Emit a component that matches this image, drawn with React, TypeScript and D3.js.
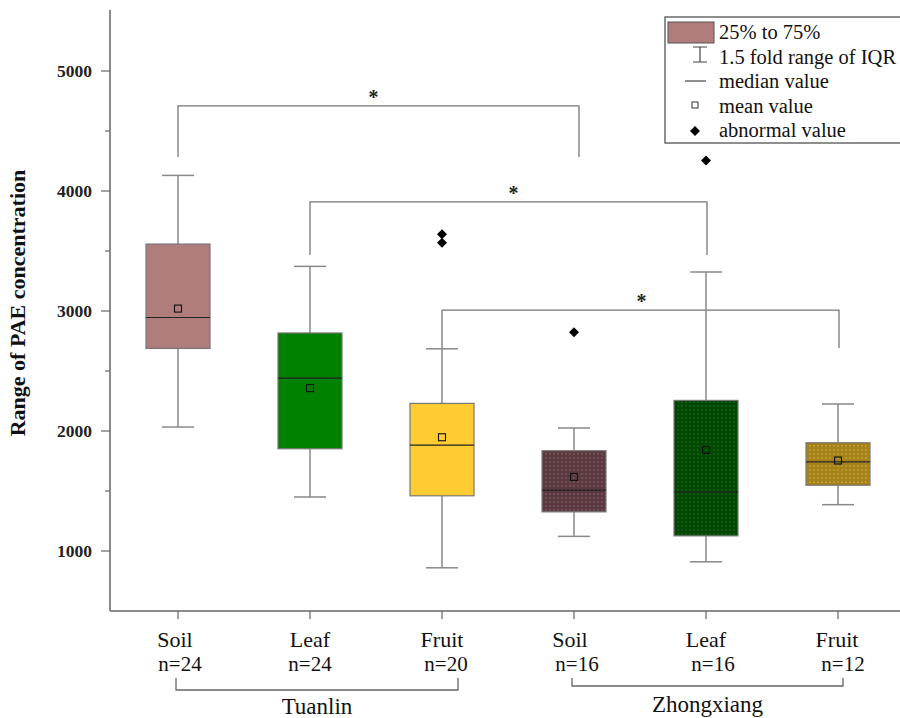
import React from "react";
import * as d3 from "d3";

const categories = ["Soil", "Leaf", "Fruit", "Soil", "Leaf", "Fruit"];
const nLabels = ["n=24", "n=24", "n=20", "n=16", "n=16", "n=12"];
const groups = ["Tuanlin", "Zhongxiang"];
const groupSpans = [[0, 2], [3, 5]];
const whiskerLow = [2033, 1450, 860, 1122, 910, 1386];
const q1 = [2688, 1852, 1460, 1326, 1126, 1548];
const median = [2946, 2440, 1882, 1508, 1490, 1742];
const mean = [3020, 2357, 1948, 1617, 1842, 1754];
const q3 = [3558, 2817, 2230, 1836, 2255, 1902];
const whiskerHigh = [4130, 3372, 2685, 2025, 3325, 2225];
const outliers = [[], [], [3640, 3568], [2822], [4255], []];
const yTicks = [1000, 2000, 3000, 4000, 5000];
const yMinor = [1500, 2500, 3500, 4500];
// [left box, right box, bracket top, left foot, right foot]
const sigPairs = [
  [0, 3, 4710, 4283, 4283],
  [1, 4, 3910, 3467, 3467],
  [2, 5, 3008, 2685, 2692],
];
const legendLabels = ["25% to 75%", "1.5 fold range of IQR", "median value", "mean value", "abnormal value"];

const fills = ["#b07c7c", "#008000", "#ffcc33", "url(#patSoil)", "url(#patLeaf)", "url(#patFruit)"];

export default function App() {
  const y = d3.scaleLinear().domain([500, 5500]).range([611, 11]);
  const x = d3.scalePoint<number>().domain(d3.range(6)).range([178, 838]);
  const boxW = 64;
  const capW = 32;
  const serif = "'Liberation Serif', 'Times New Roman', serif";
  const nOffsets = [2, 0, 4, 3, 7, 5];
  const catOffsets = [-3, 0, 0, -4, 0, -1];
  const diamond = (cx: number, cy: number, r: number) =>
    `M${cx},${cy - r}L${cx + r},${cy}L${cx},${cy + r}L${cx - r},${cy}Z`;

  return (
    <svg width={900} height={718} style={{ position: "absolute", left: 0, top: 0, background: "#fff" }} fontFamily={serif}>
      <defs>
        <pattern id="patSoil" width={4} height={4} patternUnits="userSpaceOnUse">
          <rect width={4} height={4} fill="#5a3a3f" />
          <circle cx={2} cy={2} r={0.8} fill="#8e6a6e" />
        </pattern>
        <pattern id="patLeaf" width={4} height={4} patternUnits="userSpaceOnUse">
          <rect width={4} height={4} fill="#004800" />
          <circle cx={2} cy={2} r={0.8} fill="#2a722a" />
        </pattern>
        <pattern id="patFruit" width={4} height={4} patternUnits="userSpaceOnUse">
          <rect width={4} height={4} fill="#a6821a" />
          <circle cx={2} cy={2} r={0.8} fill="#d6b445" />
        </pattern>
      </defs>

      {/* y axis */}
      <line x1={110} x2={110} y1={10} y2={611} stroke="#666" strokeWidth={1.5} />
      {yTicks.map((t) => (
        <g key={t}>
          <line x1={101} x2={110} y1={y(t)} y2={y(t)} stroke="#666" strokeWidth={1.2} />
          <text x={92} y={y(t) + 6} textAnchor="end" fontSize={17.5} fontWeight="bold" fill="#222">
            {t}
          </text>
        </g>
      ))}
      {yMinor.map((t) => (
        <line key={t} x1={105} x2={110} y1={y(t)} y2={y(t)} stroke="#666" strokeWidth={1.2} />
      ))}
      <text
        transform={`translate(25,${y(3000) - 8}) rotate(-90)`}
        textAnchor="middle"
        fontSize={22}
        fontWeight="bold"
        fill="#111"
      >
        Range of PAE concentration
      </text>

      {/* x axis */}
      <line x1={110} x2={900} y1={611} y2={611} stroke="#666" strokeWidth={1.5} />
      {categories.map((c, i) => (
        <g key={i}>
          <line x1={x(i)!} x2={x(i)!} y1={611} y2={619} stroke="#666" strokeWidth={1.2} />
          <text x={x(i)! + catOffsets[i]} y={647} textAnchor="middle" fontSize={22} fill="#111">
            {c}
          </text>
          <text x={x(i)! + nOffsets[i]} y={671} textAnchor="middle" fontSize={21} fill="#111">
            {nLabels[i]}
          </text>
        </g>
      ))}
      {groups.map((g, k) => {
        const x0 = x(groupSpans[k][0])! - 2;
        const x1 = x(groupSpans[k][1])! + (k === 0 ? 16 : 5);
        const yb = k === 0 ? 690 : 686;
        return (
          <g key={g}>
            <path d={`M${x0},678V${yb}H${x1}V678`} fill="none" stroke="#666" strokeWidth={1.3} />
            <text x={(x0 + x1) / 2} y={k === 0 ? 714 : 712} textAnchor="middle" fontSize={23} fill="#111">
              {g}
            </text>
          </g>
        );
      })}

      {/* significance brackets */}
      {sigPairs.map(([a, b, top, footL, footR], k) => {
        const xa = x(a)!;
        const xb = x(b)! + (k === 0 ? 5 : 1);
        const yt = y(top);
        return (
          <g key={k}>
            <path
              d={`M${xa},${y(footL)}V${yt}H${xb}V${y(footR)}`}
              fill="none"
              stroke="#777"
              strokeWidth={1.3}
            />
            <text x={(xa + xb) / 2 - (k === 0 ? 5 : k === 1 ? -5 : -1)} y={yt - 2} textAnchor="middle" fontSize={20} fontWeight="bold" fill="#222">
              *
            </text>
          </g>
        );
      })}

      {/* boxes */}
      {categories.map((_, i) => {
        const cx = x(i)!;
        return (
          <g key={i}>
            <line x1={cx} x2={cx} y1={y(whiskerHigh[i])} y2={y(q3[i])} stroke="#888" strokeWidth={1.5} />
            <line x1={cx} x2={cx} y1={y(q1[i])} y2={y(whiskerLow[i])} stroke="#888" strokeWidth={1.5} />
            <line x1={cx - capW / 2} x2={cx + capW / 2} y1={y(whiskerHigh[i])} y2={y(whiskerHigh[i])} stroke="#888" strokeWidth={1.5} />
            <line x1={cx - capW / 2} x2={cx + capW / 2} y1={y(whiskerLow[i])} y2={y(whiskerLow[i])} stroke="#888" strokeWidth={1.5} />
            <rect
              x={cx - boxW / 2}
              y={y(q3[i])}
              width={boxW}
              height={y(q1[i]) - y(q3[i])}
              fill={fills[i]}
              stroke="#777"
              strokeWidth={1.2}
            />
            <line x1={cx - boxW / 2} x2={cx + boxW / 2} y1={y(median[i])} y2={y(median[i])} stroke="#222" strokeWidth={1.2} />
            <rect x={cx - 3.5} y={y(mean[i]) - 3.5} width={7} height={7} fill="none" stroke="#111" strokeWidth={1.1} />
            {outliers[i].map((o, j) => (
              <path key={j} d={diamond(cx, y(o), 5)} fill="#000" />
            ))}
          </g>
        );
      })}

      {/* legend */}
      <g>
        <rect x={665} y={17} width={250} height={126} fill="#fff" stroke="#444" strokeWidth={1.2} />
        <rect x={668} y={22} width={46} height={21} fill="#b07c7c" stroke="#555" strokeWidth={1} />
        <path d="M693,47H707M700,47V62M693,62H707" fill="none" stroke="#444" strokeWidth={1.2} />
        <line x1={685} x2={706} y1={81} y2={81} stroke="#444" strokeWidth={1.2} />
        <rect x={692} y={102} width={6} height={6} fill="none" stroke="#333" strokeWidth={1} />
        <path d={diamond(695, 131, 5)} fill="#000" />
        {legendLabels.map((l, k) => (
          <text key={l} x={719} y={39 + k * 24.5} fontSize={20.5} fill="#111">
            {l}
          </text>
        ))}
      </g>
    </svg>
  );
}
